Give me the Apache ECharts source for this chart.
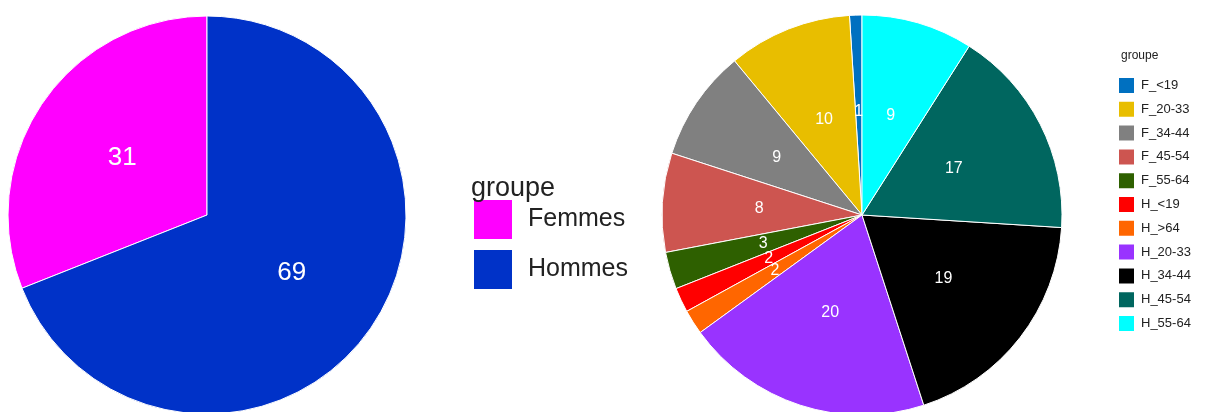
<!DOCTYPE html>
<html>
<head>
<meta charset="utf-8">
<script src="https://cdn.jsdelivr.net/npm/echarts@6/dist/echarts.min.js"></script>
<style>
  html, body { margin: 0; padding: 0; background: #fff; }
  #chart { width: 1223px; height: 412px; }
</style>
</head>
<body>
<div id="chart"></div>
<script>
// Répartition par sexe
const sexeGroupes = ['Femmes', 'Hommes'];
const sexeValeurs = [31, 69];
const sexeCouleurs = ['#FF00FF', '#0032C8'];

// Répartition par sexe et tranche d'âge
const ageGroupes = ['F_<19', 'F_20-33', 'F_34-44', 'F_45-54', 'F_55-64',
                    'H_<19', 'H_>64', 'H_20-33', 'H_34-44', 'H_45-54', 'H_55-64'];
const ageValeurs = [1, 10, 9, 8, 3, 2, 2, 20, 19, 17, 9];
const ageCouleurs = ['#0070C0', '#E8BE00', '#808080', '#CD5550', '#2E6000',
                     '#FF0000', '#FF6600', '#9933FF', '#000000', '#00665F', '#00FFFF'];

const font = 'Liberation Sans, Arial, sans-serif';

const chart = echarts.init(document.getElementById('chart'), null, { renderer: 'canvas' });

function pieData(names, values, colors) {
  return names.map((n, i) => ({ name: n, value: values[i], itemStyle: { color: colors[i] } }));
}

chart.setOption({
  animation: false,
  backgroundColor: '#ffffff',
  title: [
    { text: 'groupe', left: 466, top: 170,
      textStyle: { fontFamily: font, fontSize: 27, fontWeight: 'normal', color: '#222' } },
    { text: 'groupe', left: 1116, top: 45,
      textStyle: { fontFamily: font, fontSize: 12, fontWeight: 'normal', color: '#222' } }
  ],
  legend: [
    {
      data: sexeGroupes,
      orient: 'vertical',
      left: 472, top: 198,
      padding: 0,
      icon: 'rect',
      itemWidth: 40, itemHeight: 41, itemGap: 7,
      selectedMode: false,
      textStyle: { fontFamily: font, fontSize: 25, color: '#222', padding: [0, 0, 0, 10] }
    },
    {
      data: ageGroupes,
      orient: 'vertical',
      left: 1117, top: 76,
      padding: 0,
      icon: 'rect',
      itemWidth: 17, itemHeight: 17, itemGap: 4.8,
      selectedMode: false,
      textStyle: { fontFamily: font, fontSize: 13, lineHeight: 17, color: '#222', padding: [0, 0, 0, 1] }
    }
  ],
  series: [
    {
      type: 'pie',
      center: [207, 215],
      radius: [0, 199],
      startAngle: 90,
      clockwise: false,
      legendHoverLink: false,
      data: pieData(sexeGroupes, sexeValeurs, sexeCouleurs),
      itemStyle: { borderColor: '#ffffff', borderWidth: 1 },
      label: { show: true, position: 'inside', formatter: '{c}',
               fontFamily: font, fontSize: 26, color: '#ffffff' },
      labelLine: { show: false },
      emphasis: { disabled: true }
    },
    {
      type: 'pie',
      center: [862, 215],
      radius: [0, 200],
      startAngle: 90,
      clockwise: false,
      legendHoverLink: false,
      data: pieData(ageGroupes, ageValeurs, ageCouleurs),
      itemStyle: { borderColor: '#ffffff', borderWidth: 1 },
      label: { show: true, position: 'inside', formatter: '{c}',
               fontFamily: font, fontSize: 16, color: '#ffffff' },
      labelLine: { show: false },
      labelLayout: { hideOverlap: false },
      emphasis: { disabled: true }
    }
  ]
});
</script>
</body>
</html>
